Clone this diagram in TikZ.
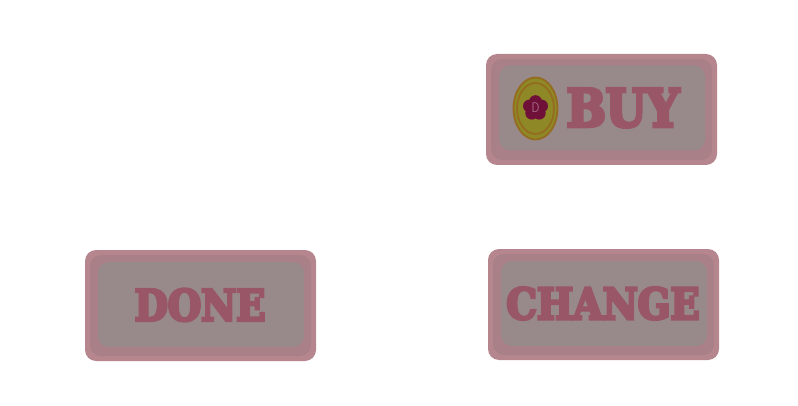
\documentclass[tikz,border=0pt]{standalone}
\usepackage{fontspec}
\usetikzlibrary{shapes.geometric,calc}
\newfontfamily\fatfont[FakeBold=6.5,FakeStretch=0.89]{DejaVu Serif Bold}
\definecolor{outerc}{HTML}{B5868E}
\definecolor{midc}{HTML}{A98087}
\definecolor{innerc}{HTML}{988A8B}
\definecolor{labelc}{HTML}{985666}
\definecolor{goldc}{HTML}{8F8826}
\definecolor{ringc}{HTML}{946C20}
\definecolor{petalc}{HTML}{6E1038}
\definecolor{dc}{HTML}{A86E88}
\tikzset{
  x=1pt,y=1pt,
  outerbox/.style={rectangle,fill=outerc,rounded corners=11pt,minimum width=231pt,minimum height=111pt,inner sep=0},
  midbox/.style={rectangle,fill=midc,rounded corners=11pt,minimum width=221pt,minimum height=101pt,inner sep=0},
  innerbox/.style={rectangle,fill=innerc,rounded corners=11pt,minimum width=206pt,minimum height=85pt,inner sep=0},
  btnlabel/.style={text=labelc,inner sep=0},
  coin/.style={ellipse,fill=goldc,draw=ringc,line width=1.8pt,inner sep=0},
  petal/.style={circle,fill=petalc,minimum size=13pt,inner sep=0}
}
\begin{document}
\begin{tikzpicture}
\useasboundingbox (0,0) rectangle (798,405);
% BUY
\node[outerbox] (buyO) at (601.5,295.5) {};
\node[midbox] (buyM) at (601.5,295.5) {};
\node[innerbox] (buyI) at (602,297) {};
\node[coin,minimum width=44pt,minimum height=62pt] (coinA) at (535.5,296.5) {};
\node[coin,minimum width=37pt,minimum height=51pt] (coinB) at (535.5,296.5) {};
\foreach \a in {90,162,234,306,18}{
  \node[petal] at ($(535.5,297)+(\a:6.3pt)$) {};
}
\node[text=dc,inner sep=0,xscale=.8,font=\fontsize{14}{14}\selectfont\sffamily] (dmark) at (535.5,297.5) {D};
\node[btnlabel,font=\fatfont\fontsize{52}{52}\selectfont] (buy) at (623,297) {BUY};
% DONE
\node[outerbox] (doneO) at (200.5,99.5) {};
\node[midbox] (doneM) at (200.5,99.5) {};
\node[innerbox] (doneI) at (201,100.5) {};
\node[btnlabel,font=\fatfont\fontsize{43}{43}\selectfont] (done) at (200,100) {DONE};
% CHANGE
\node[outerbox] (chO) at (603.5,100.5) {};
\node[midbox] (chM) at (603.5,100.5) {};
\node[innerbox] (chI) at (604,101.5) {};
\node[btnlabel,font=\fatfont\fontsize{43}{43}\selectfont] (change) at (603,101.5) {CHANGE};
\end{tikzpicture}
\end{document}
